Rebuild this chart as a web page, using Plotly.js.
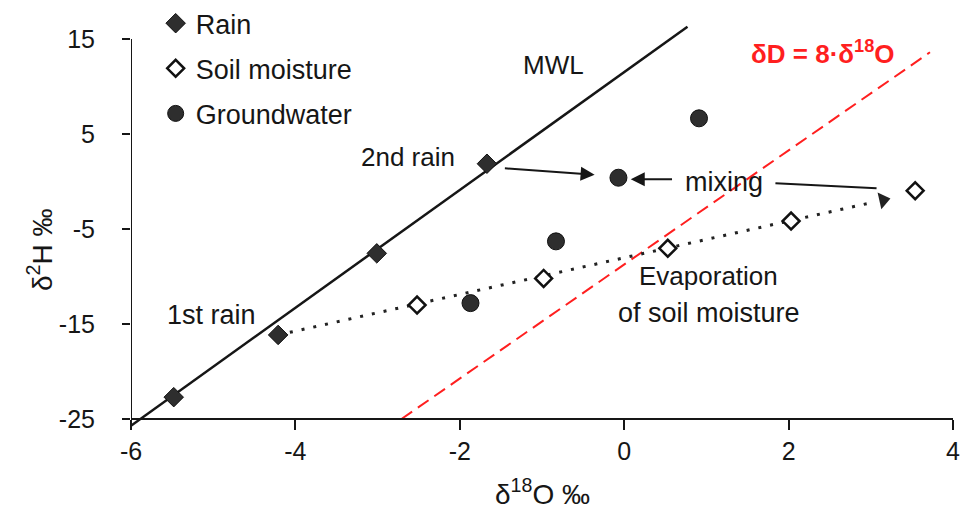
<!DOCTYPE html>
<html>
<head>
<meta charset="utf-8">
<script src="https://cdn.plot.ly/plotly-3.0.1.min.js"></script>
<style>html,body{margin:0;padding:0;background:#fff;}#chart{width:961px;height:513px;}</style>
</head>
<body>
<div id="chart"></div>
<script>
// ---- data ----
var rainX = [-5.48, -4.21, -3.01, -1.67];
var rainY = [-22.7, -16.15, -7.56, 1.87];

var soilX = [-2.52, -0.98, 0.53, 2.03, 3.54];
var soilY = [-13.0, -10.2, -7.03, -4.16, -0.97];

var gwX = [-1.87, -0.83, -0.07, 0.91];
var gwY = [-12.8, -6.3, 0.4, 6.65];

// meteoric water line (drawn endpoints)
var mwlX = [-6.04, 0.77];
var mwlY = [-25.95, 16.3];

// red reference line δD = 8·δ18O (drawn endpoints)
var redX = [-2.71, 3.72];
var redY = [-25.0, 13.6];

// evaporation trend (dotted) from 1st rain to arrow head
var evapX = [-4.21, 3.02];
var evapY = [-16.15, -2.2];
var evapHeadX = [3.15];
var evapHeadY = [-1.95];

// arrows: [headX, headY, tailX, tailY]
var arrowRain2 = [-0.36, 0.72, -1.47, 1.4];
var arrowMix = [0.08, 0.23, 0.6, 0.23];
var mixLineX = [1.84, 3.07];
var mixLineY = [-0.19, -0.72];

var xTicks = [-6, -4, -2, 0, 2, 4];
var xTickText = ['-6', '-4', '-2', '0', '2', '4'];
var yTicks = [-25, -15, -5, 5, 15];
var yTickText = ['-25', '-15', '-5', '5', '15'];

// ---- chart ----
var FONT = 'Liberation Sans, Arial, sans-serif';
var INK = '#161616';

var traces = [
  {x: redX, y: redY, mode: 'lines', showlegend: false, hoverinfo: 'skip',
   line: {color: '#ff1f1f', width: 2, dash: '13px,7px'}},
  {x: mwlX, y: mwlY, mode: 'lines', showlegend: false, hoverinfo: 'skip',
   line: {color: INK, width: 2.5}},
  {x: evapX, y: evapY, mode: 'lines', showlegend: false, hoverinfo: 'skip',
   line: {color: '#222', width: 3, dash: '3px,9px'}},
  {x: mixLineX, y: mixLineY, mode: 'lines', showlegend: false, hoverinfo: 'skip',
   line: {color: INK, width: 2}},
  {x: evapHeadX, y: evapHeadY, mode: 'markers', showlegend: false, hoverinfo: 'skip',
   marker: {symbol: 'triangle-right', size: 15, angle: -12.5, color: '#222'}},
  {x: rainX, y: rainY, mode: 'markers', name: 'Rain', legendgroup: 'a',
   marker: {symbol: 'diamond', size: 15, color: '#2e2e2e', line: {color: '#111', width: 1}}},
  {x: soilX, y: soilY, mode: 'markers', name: 'Soil moisture', legendgroup: 'b',
   marker: {symbol: 'diamond', size: 13, color: '#fff', line: {color: '#111', width: 2.5}}},
  {x: gwX, y: gwY, mode: 'markers', name: 'Groundwater', legendgroup: 'c',
   marker: {symbol: 'circle', size: 17, color: '#2e2e2e', line: {color: '#111', width: 1}}}
];

function arrow(a) {
  return {x: a[0], y: a[1], ax: a[2], ay: a[3], xref: 'x', yref: 'y', axref: 'x', ayref: 'y',
          text: '', showarrow: true, arrowhead: 2, arrowsize: 1.4, arrowwidth: 2,
          arrowcolor: INK, standoff: 0, startstandoff: 0};
}
function label(txt, x, y, size, extra) {
  var a = {x: x, y: y, xref: 'x', yref: 'y', text: txt, showarrow: false,
           xanchor: 'center', yanchor: 'middle',
           font: {family: FONT, size: size, color: INK}};
  if (extra) for (var k in extra) a[k] = extra[k];
  return a;
}

var layout = {
  width: 961, height: 513,
  margin: {l: 131, r: 8, t: 20, b: 84, autoexpand: false},
  paper_bgcolor: '#fff', plot_bgcolor: '#fff',
  showlegend: true,
  legend: {x: 0.03, y: 1.051, xanchor: 'left', yanchor: 'top', bgcolor: 'rgba(0,0,0,0)',
           font: {family: FONT, size: 27, color: INK}, traceorder: 'grouped', tracegroupgap: 7,
           itemsizing: 'trace'},
  xaxis: {range: [-6, 4], anchor: 'free', position: 0.0244, showgrid: false, zeroline: false,
          showline: true, linecolor: INK, linewidth: 2,
          tickmode: 'array', tickvals: xTicks, ticktext: xTickText, ticks: 'outside', ticklen: 10, tickwidth: 2,
          tickcolor: INK, tickfont: {family: FONT, size: 25, color: INK}},
  yaxis: {range: [-26.05, 17.0], showgrid: false, zeroline: false, showline: false,
          tickmode: 'array', tickvals: yTicks, ticktext: yTickText, ticks: 'outside', ticklen: 8, tickwidth: 2,
          tickcolor: INK, ticklabelstandoff: 22, tickfont: {family: FONT, size: 25, color: INK}},
  shapes: [
    {type: 'line', xref: 'x', yref: 'y', x0: -6, x1: -6, y0: 15, y1: -26.05,
     line: {color: INK, width: 2}}
  ],
  annotations: [
    arrow(arrowRain2), arrow(arrowMix),
    label('MWL', -0.864, 12.26, 26),
    label('2nd rain', -2.63, 2.58, 26),
    label('1st rain', -5.02, -14.05, 27),
    label('mixing', 1.22, -0.05, 27),
    label('Evaporation', 1.03, -9.95, 26),
    label('of soil moisture', 1.03, -13.84, 27),
    label('<b>δD = 8·δ<sup>18</sup>O</b>', 2.42, 13.53, 26, {font: {family: FONT, size: 26, color: '#ff1f1f'}}),
    {xref: 'paper', yref: 'paper', x: 0.5, y: -0.154, xanchor: 'center', yanchor: 'middle',
     showarrow: false, text: 'δ<sup>18</sup>O ‰', font: {family: FONT, size: 28, color: INK}},
    {xref: 'paper', yref: 'paper', x: -0.1107, y: 0.4377, xanchor: 'center', yanchor: 'middle',
     showarrow: false, textangle: -90, text: 'δ<sup>2</sup>H ‰', font: {family: FONT, size: 28, color: INK}}
  ]
};

Plotly.newPlot('chart', traces, layout, {staticPlot: true, displayModeBar: false});
</script>
</body>
</html>
